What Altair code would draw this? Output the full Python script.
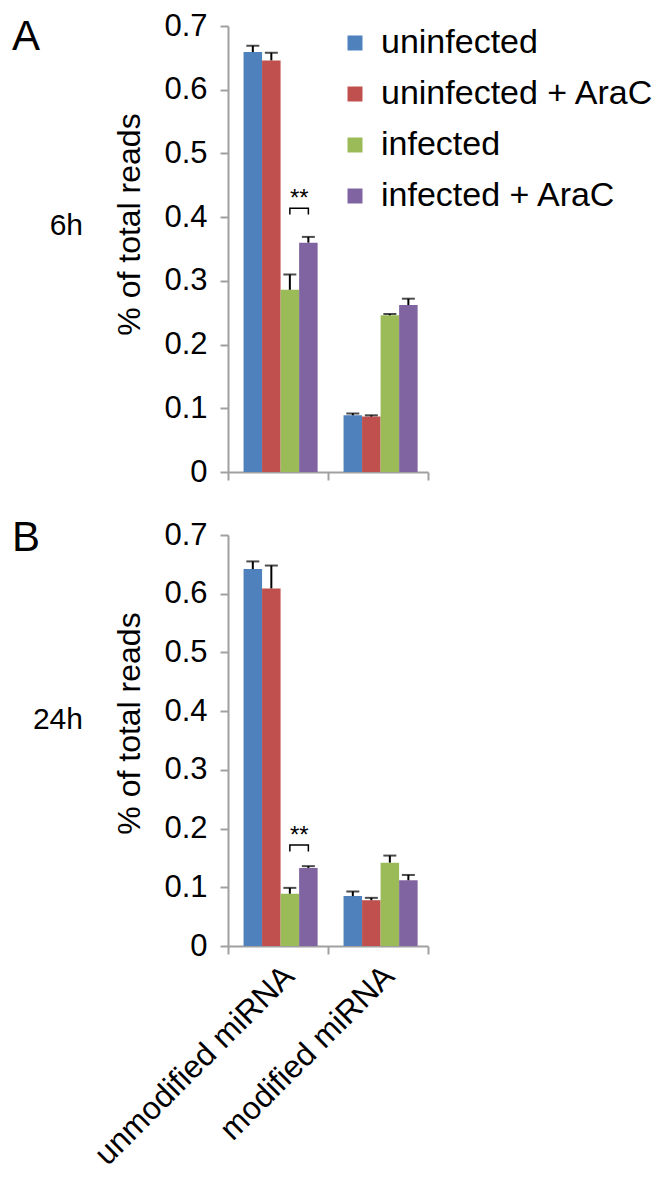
import altair as alt
import pandas as pd

FONT = "Liberation Sans"

groups = ["unmodified miRNA", "modified miRNA"]
conditions = ["uninfected", "uninfected + AraC", "infected", "infected + AraC"]
colors = ["#4F81BD", "#C0504D", "#9BBB59", "#8064A2"]
y_ticks = [0, 0.1, 0.2, 0.3, 0.4, 0.5, 0.6, 0.7]

# Panel A (6h)
a_unmod = [0.659, 0.646, 0.286, 0.360]
a_unmod_err = [0.010, 0.012, 0.024, 0.009]
a_mod = [0.089, 0.087, 0.246, 0.262]
a_mod_err = [0.003, 0.002, 0.002, 0.010]
a_bracket = [0.404, 0.414]  # end bottom, top

# Panel B (24h)
b_unmod = [0.642, 0.609, 0.089, 0.133]
b_unmod_err = [0.013, 0.039, 0.010, 0.003]
b_mod = [0.085, 0.078, 0.142, 0.112]
b_mod_err = [0.008, 0.004, 0.012, 0.009]
b_bracket = [0.161, 0.172]

AX = "#A0A0A0"


def make_panel(unmod, unmod_err, mod, mod_err, bracket, letter, letter_y,
               time, time_y, title_y, height, show_labels, show_legend):
    rows = []
    for g, vals, errs in [(groups[0], unmod, unmod_err), (groups[1], mod, mod_err)]:
        for c, v, e in zip(conditions, vals, errs):
            rows.append({"group": g, "cond": c, "value": v, "upper": v + e})
    df = pd.DataFrame(rows)

    x_axis = alt.Axis(
        title=None, labels=show_labels, labelAngle=-45, labelFontSize=32,
        labelFont=FONT, labelColor="black", labelPadding=6, labelLimit=0,
        tickBand="extent", tickSize=8, tickWidth=2, tickColor=AX,
        domainColor=AX, domainWidth=2, grid=False,
    )
    y_axis = alt.Axis(
        values=y_ticks, format=".1~f", labelFontSize=31, labelFont=FONT,
        labelColor="black", labelPadding=13, tickSize=8, tickWidth=2,
        tickColor=AX, domainColor=AX, domainWidth=2, grid=False,
        title="% of total reads", titleFontSize=32, titleFont=FONT,
        titleFontWeight="normal", titleColor="black", titlePadding=17,
        titleY=title_y,
    )
    xs = alt.X("group:N", sort=groups,
               scale=alt.Scale(domain=groups, paddingInner=0, paddingOuter=0),
               axis=x_axis)
    xo = alt.XOffset("cond:N", sort=conditions,
                     scale=alt.Scale(domain=conditions, paddingInner=0,
                                     paddingOuter=0.7, align=0.6))
    ys = alt.Y("value:Q", scale=alt.Scale(domain=[0, 0.7], nice=False), axis=y_axis)
    if show_legend:
        legend = alt.Legend(
            title=None, orient="none", legendX=110, legendY=0,
            symbolType="square", symbolSize=225, symbolStrokeWidth=0,
            labelFontSize=34, labelFont=FONT, labelColor="black", labelLimit=0,
            rowPadding=17, labelOffset=9, padding=0,
        )
    else:
        legend = None

    bars = alt.Chart(df).mark_bar().encode(
        x=xs, xOffset=xo, y=ys,
        color=alt.Color("cond:N", sort=conditions,
                        scale=alt.Scale(domain=conditions, range=colors),
                        legend=legend),
    )
    err = alt.Chart(df).mark_rule(color="black", strokeWidth=2).encode(
        x=xs, xOffset=xo, y=ys, y2="upper:Q")
    caps = alt.Chart(df).mark_tick(color="black", thickness=2, size=13).encode(
        x=xs, xOffset=xo,
        y=alt.Y("upper:Q", scale=alt.Scale(domain=[0, 0.7], nice=False), axis=y_axis))

    br = pd.DataFrame({
        "group": [groups[0]] * 4,
        "cond": [conditions[2], conditions[2], conditions[3], conditions[3]],
        "value": [bracket[0], bracket[1], bracket[1], bracket[0]],
        "ord": [0, 1, 2, 3],
    })
    bracket_line = alt.Chart(br).mark_line(color="black", strokeWidth=1.5).encode(
        x=xs, xOffset=xo, y=ys, order="ord:Q")

    st = pd.DataFrame({"group": [groups[0]], "cond": [conditions[3]],
                       "value": [bracket[1]], "t": ["**"]})
    stars = alt.Chart(st).mark_text(
        font=FONT, fontSize=24, align="center", baseline="alphabetic", dx=-9, dy=-2,
        color="black",
    ).encode(x=xs, xOffset=xo, y=ys, text="t:N")

    lab = alt.Chart(pd.DataFrame({"t": [letter]})).mark_text(
        font=FONT, fontSize=42, align="left", baseline="middle", color="black"
    ).encode(x=alt.value(-216), y=alt.value(letter_y), text="t:N")
    tm = alt.Chart(pd.DataFrame({"t": [time]})).mark_text(
        font=FONT, fontSize=30, align="right", baseline="middle", color="black"
    ).encode(x=alt.value(-145), y=alt.value(time_y), text="t:N")

    return alt.layer(bars, err, caps, bracket_line, stars, lab, tm).properties(
        width=200, height=height)


panel_a = make_panel(a_unmod, a_unmod_err, a_mod, a_mod_err, a_bracket,
                     "A", 11, "6h", 200, 198, 446, False, True)
panel_b = make_panel(b_unmod, b_unmod_err, b_mod, b_mod_err, b_bracket,
                     "B", 3, "24h", 185, 188, 411, True, False)

chart = alt.vconcat(panel_a, panel_b, spacing=30).resolve_scale(
    color="independent", x="independent", y="independent"
).properties(
    padding={"left": 4, "top": 2, "right": 0, "bottom": 0},
    background="white",
).configure_view(stroke=None)

chart.save("out.html", embed_options={"renderer": "svg", "actions": False})
